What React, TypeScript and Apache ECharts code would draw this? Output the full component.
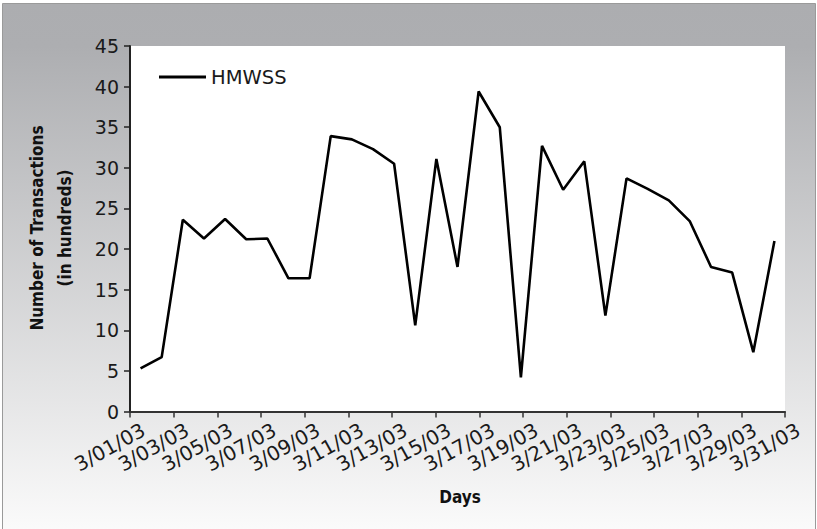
import React, { useEffect, useRef } from "react";
import * as echarts from "echarts";

const days: string[] = [
  "3/01/03", "3/02/03", "3/03/03", "3/04/03", "3/05/03", "3/06/03", "3/07/03", "3/08/03",
  "3/09/03", "3/10/03", "3/11/03", "3/12/03", "3/13/03", "3/14/03", "3/15/03", "3/16/03",
  "3/17/03", "3/18/03", "3/19/03", "3/20/03", "3/21/03", "3/22/03", "3/23/03", "3/24/03",
  "3/25/03", "3/26/03", "3/27/03", "3/28/03", "3/29/03", "3/30/03", "3/31/03",
];

const hmwss: number[] = [
  5.3, 6.7, 23.6, 21.3, 23.7, 21.2, 21.3, 16.4, 16.4, 33.9, 33.5, 32.3, 30.5, 10.6, 31.1, 17.8,
  39.4, 35.0, 4.2, 32.7, 27.3, 30.8, 11.8, 28.7, 27.4, 26.0, 23.4, 17.8, 17.1, 7.3, 21.0,
];

const tickLabels: string[] = [
  "3/01/03", "3/03/03", "3/05/03", "3/07/03", "3/09/03", "3/11/03", "3/13/03", "3/15/03",
  "3/17/03", "3/19/03", "3/21/03", "3/23/03", "3/25/03", "3/27/03", "3/29/03", "3/31/03",
];

const seriesName = "HMWSS";
const xTitle = "Days";
const yTitle = "Number of Transactions\n(in hundreds)";

const labelFont = '"DejaVu Sans", "Liberation Sans", Arial, sans-serif';
const titleFont = '"DejaVu Sans Condensed", "Liberation Sans Narrow", sans-serif';

export default function App() {
  const ref = useRef<HTMLDivElement>(null);

  useEffect(() => {
    if (!ref.current) return;
    const chart = echarts.init(ref.current, null, { renderer: "svg" });
    chart.setOption({
      animation: false,
      backgroundColor: "#ffffff",
      graphic: [
        {
          type: "rect",
          z: -10,
          silent: true,
          shape: { x: 2.5, y: 3.5, width: 813, height: 530 },
          style: {
            fill: new echarts.graphic.LinearGradient(0, 0, 0, 1, [
              { offset: 0, color: "#acadb0" },
              { offset: 0.08, color: "#adaeb1" },
              { offset: 1, color: "#fbfbfb" },
            ]),
            stroke: "#9a9a9a",
            lineWidth: 1,
          },
        },
        {
          type: "text",
          x: 51,
          y: 228,
          rotation: Math.PI / 2,
          z: 10,
          style: {
            text: yTitle,
            fill: "#111",
            fontFamily: titleFont,
            fontWeight: "bold",
            fontSize: 17,
            lineHeight: 28,
            align: "center",
            verticalAlign: "middle",
            textAlign: "center",
            textVerticalAlign: "middle",
          },
        },
        {
          type: "text",
          x: 460,
          y: 497,
          z: 10,
          style: {
            text: xTitle,
            fill: "#111",
            fontFamily: titleFont,
            fontWeight: "bold",
            fontSize: 17,
            align: "center",
            verticalAlign: "middle",
            textAlign: "center",
            textVerticalAlign: "middle",
          },
        },
      ],
      legend: {
        show: true,
        orient: "horizontal",
        left: 159,
        top: 67,
        padding: 0,
        itemWidth: 47,
        itemHeight: 3,
        data: [{ name: seriesName, icon: "rect" }],
        itemStyle: { color: "#000", borderWidth: 0 },
        textStyle: { fontFamily: labelFont, fontSize: 19.5, color: "#1a1a1a" },
      },
      grid: {
        left: 130,
        top: 46,
        width: 655,
        height: 365.5,
        show: true,
        backgroundColor: "#ffffff",
        borderWidth: 0,
      },
      xAxis: [
        {
          type: "category",
          data: days,
          boundaryGap: true,
          position: "bottom",
          axisLine: { show: false },
          axisTick: { show: false },
          axisLabel: { show: false },
          splitLine: { show: false },
        },
        {
          type: "category",
          data: tickLabels,
          boundaryGap: false,
          position: "bottom",
          axisLine: { show: true, lineStyle: { color: "#333", width: 2 } },
          axisTick: { show: true, length: 6, lineStyle: { color: "#333", width: 1.5 } },
          axisLabel: {
            show: true,
            interval: 0,
            rotate: 29,
            margin: 13,
            align: "right",
            verticalAlign: "top",
            padding: [0, -10, 0, 0],
            fontFamily: labelFont,
            fontSize: 20,
            color: "#1a1a1a",
          },
          splitLine: { show: false },
        },
      ],
      yAxis: {
        type: "value",
        min: 0,
        max: 45,
        interval: 5,
        axisLine: { show: true, lineStyle: { color: "#222", width: 2 } },
        axisTick: { show: true, length: 6, lineStyle: { color: "#222", width: 1.5 } },
        axisLabel: { margin: 11, fontFamily: labelFont, fontSize: 19, color: "#1a1a1a" },
        splitLine: { show: false },
      },
      series: [
        {
          name: seriesName,
          type: "line",
          xAxisIndex: 0,
          data: hmwss,
          symbol: "none",
          showSymbol: false,
          lineStyle: { color: "#000", width: 2.6 },
          itemStyle: { color: "#000" },
        },
      ],
    });
    return () => chart.dispose();
  }, []);

  return (
    <div
      ref={ref}
      style={{ position: "fixed", left: 0, top: 0, width: 817, height: 529 }}
    />
  );
}
